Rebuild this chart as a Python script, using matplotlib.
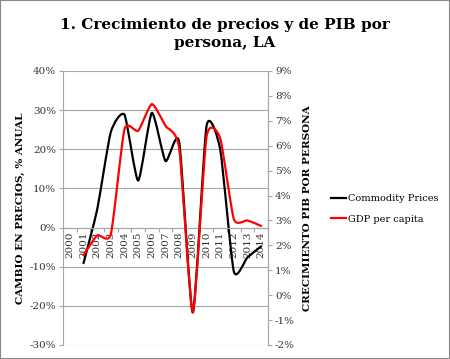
import matplotlib
matplotlib.use('Agg')
import matplotlib.pyplot as plt
import numpy as np
from matplotlib.path import Path
from matplotlib.patches import PathPatch, Rectangle
from matplotlib.lines import Line2D
from matplotlib.ticker import FuncFormatter, FixedLocator

years = [str(y) for y in range(2000, 2015)]
# commodity prices, % annual change (left axis), starts 2001
commodity = [None, -9.1, 4.6, 24.4, 28.8, 12.0, 29.3, 17.0, 21.9, -21.7, 25.9, 20.0, -11.2, -7.6, -4.8]
# GDP per capita growth, % (right axis), starts 2001
gdp = [None, 1.6, 2.4, 2.45, 6.66, 6.6, 7.67, 6.8, 5.9, -0.67, 6.35, 6.3, 3.06, 3.0, 2.78]

serif = 'DejaVu Serif'


def smooth_path(xs, ys, k=0.1):
    # excel-like smoothed line: bezier segments through the points
    pts = np.column_stack([xs, ys]).astype(float)
    n = len(pts)
    verts = [pts[0]]
    codes = [Path.MOVETO]
    for i in range(n - 1):
        p0 = pts[i - 1] if i > 0 else pts[i]
        p1 = pts[i]
        p2 = pts[i + 1]
        p3 = pts[i + 2] if i + 2 < n else pts[i + 1]
        c1 = p1 + (p2 - p0) * k
        c2 = p2 - (p3 - p1) * k
        verts += [c1, c2, p2]
        codes += [Path.CURVE4] * 3
    return Path(verts, codes)


def draw_series(ax, vals, color):
    xs = [i for i, v in enumerate(vals) if v is not None]
    ys = [v for v in vals if v is not None]
    patch = PathPatch(smooth_path(xs, ys), facecolor='none', edgecolor=color, lw=1.6,
                      capstyle='round', joinstyle='round')
    ax.add_patch(patch)


fig = plt.figure(figsize=(4.5, 3.59), dpi=100)
ax = fig.add_axes([63 / 450, 1 - 345 / 359, (268 - 63) / 450, (345 - 71) / 359])
ax2 = ax.twinx()

grey = '#a6a6a6'
ax.set_xlim(-0.5, len(years) - 0.5)
ax.set_ylim(-30, 40)
ax2.set_ylim(-2, 9)

ax.set_yticks(np.arange(-30, 41, 10))
ax2.set_yticks(np.arange(-2, 10, 1))
pct = FuncFormatter(lambda v, p: '%d%%' % v)
ax.yaxis.set_major_formatter(pct)
ax2.yaxis.set_major_formatter(pct)
ax.grid(axis='y', color=grey, lw=0.8)
ax.set_axisbelow(True)

for a in (ax, ax2):
    a.spines['top'].set_visible(False)
    for s in ('left', 'right', 'bottom'):
        a.spines[s].set_color(grey)
        a.spines[s].set_linewidth(0.8)
    a.tick_params(axis='y', labelsize=7.5, colors=grey, length=3, width=0.8, pad=2)
    for lab in a.get_yticklabels():
        lab.set_fontfamily(serif)
        lab.set_color('#333333')
ax2.spines['bottom'].set_visible(False)
ax2.spines['left'].set_visible(False)

ax.spines['bottom'].set_position(('data', 0))
ax.xaxis.set_major_locator(FixedLocator(np.arange(-0.5, len(years), 1)))
ax.xaxis.set_minor_locator(FixedLocator(np.arange(len(years))))
ax.set_xticklabels([], minor=False)
ax.set_xticklabels(years, minor=True, rotation=90, fontsize=7.5, fontfamily=serif, color='#333333')
ax.tick_params(axis='x', which='major', length=3, color=grey, width=0.8)
ax.tick_params(axis='x', which='minor', length=0, pad=3)

draw_series(ax, commodity, 'black')
draw_series(ax2, gdp, '#ff0000')

ax.set_ylabel('CAMBIO EN PRECIOS, % ANUAL', fontsize=7.5, fontweight='bold', fontfamily=serif, labelpad=3)
ax2.set_ylabel('CRECIMIENTO PIB POR PERSONA', fontsize=7.5, fontweight='bold', fontfamily=serif, labelpad=6)

fig.text(0.5, 1 - 34 / 359, '1. Crecimiento de precios y de PIB por\npersona, LA', ha='center', va='center',
         fontsize=11, fontweight='bold', fontfamily=serif, linespacing=1.35)

handles = [Line2D([], [], color='black', lw=1.6), Line2D([], [], color='#ff0000', lw=1.6)]
fig.legend(handles, ['Commodity Prices', 'GDP per capita'], loc='center left',
           bbox_to_anchor=(322 / 450, 1 - 209 / 359), frameon=False, handlelength=1.6,
           handletextpad=0.2, labelspacing=1.2, prop={'family': serif, 'size': 7})

fig.patches.append(Rectangle((0, 0), 1, 1, transform=fig.transFigure, fill=False,
                             edgecolor='#888888', lw=1.5))

fig.savefig('out.png', dpi=100)
